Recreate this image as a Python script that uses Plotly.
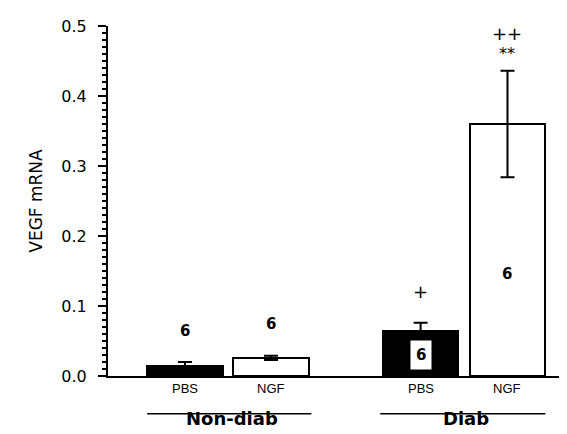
import plotly.graph_objects as go

# ---- data ----
groups = ["Non-diab", "Diab"]
treatments = ["PBS", "NGF", "PBS", "NGF"]
vegf_mean = [0.014, 0.026, 0.065, 0.36]
vegf_err = [0.006, 0.003, 0.011, 0.076]
n_labels = ["6", "6", "6", "6"]
y_ticks = [0.0, 0.1, 0.2, 0.3, 0.4, 0.5]
y_ticklabels = ["0.0", "0.1", "0.2", "0.3", "0.4", "0.5"]

# ---- layout constants ----
xpos = [0.0, 1.0, 2.74, 3.75]
bar_w = 0.88
fill = ["black", "white", "black", "white"]
FONT = "DejaVu Sans"

fig = go.Figure()
fig.add_trace(go.Bar(
    x=xpos, y=vegf_mean, width=bar_w,
    marker=dict(color=fill, line=dict(color="black", width=2)),
    error_y=dict(type="data", array=vegf_err, visible=True,
                 color="black", thickness=2, width=7),
    showlegend=False, hoverinfo="skip",
))

ann = []
# n labels
n_y = [0.064, 0.074, None, 0.146]
for i in [0, 1, 3]:
    ann.append(dict(x=xpos[i], y=n_y[i], text=n_labels[i], showarrow=False,
                    font=dict(family=FONT, size=15, color="black", weight="bold")))
ann.append(dict(x=xpos[2], y=0.03, text=n_labels[2], showarrow=False,
                bgcolor="white", borderpad=5,
                font=dict(family=FONT, size=15, color="black", weight="bold")))
# significance marks
ann.append(dict(x=xpos[2], y=0.121, text="+", showarrow=False,
                font=dict(family="DejaVu Sans", size=18, color="black")))
ann.append(dict(x=xpos[3], y=0.461, text="**", showarrow=False,
                font=dict(family="DejaVu Sans", size=16, color="black")))
ann.append(dict(x=xpos[3], y=0.49, text="++", showarrow=False,
                font=dict(family="DejaVu Sans", size=18, color="black")))
# treatment labels below
for i, t in enumerate(treatments):
    ann.append(dict(x=xpos[i], y=-0.062, yref="paper", text=t, showarrow=False,
                    font=dict(family="Liberation Sans", size=13, color="black")))
# group labels
grp_x = [(xpos[0] + xpos[1]) / 2 + 0.05, (xpos[2] + xpos[3]) / 2 + 0.02]
for gx, g in zip(grp_x, groups):
    ann.append(dict(x=gx, y=-0.158, yref="paper", text=g, showarrow=False,
                    font=dict(family=FONT, size=18, color="black", weight="bold")))

shapes = [
    dict(type="line", xref="x", yref="paper", x0=xpos[0] - bar_w / 2, x1=xpos[1] + bar_w / 2 + 0.03,
         y0=-0.108, y1=-0.108, line=dict(color="black", width=1.5)),
    dict(type="line", xref="x", yref="paper", x0=xpos[2] - bar_w / 2 - 0.03, x1=xpos[3] + bar_w / 2,
         y0=-0.108, y1=-0.108, line=dict(color="black", width=1.5)),
]

fig.update_layout(
    width=567, height=434,
    margin=dict(l=100, r=0, t=18, b=66),
    plot_bgcolor="white", paper_bgcolor="white",
    annotations=ann, shapes=shapes,
    bargap=0,
    xaxis=dict(range=[-0.895, 4.535], showgrid=False, zeroline=False,
               showline=True, linecolor="black", linewidth=2,
               showticklabels=False, ticks=""),
    yaxis=dict(range=[0, 0.5], showgrid=False, zeroline=False,
               showline=True, linecolor="black", linewidth=2,
               tickmode="array", tickvals=y_ticks, ticktext=y_ticklabels,
               ticks="outside", ticklen=8, tickwidth=2, tickcolor="black",
               ticklabelstandoff=8,
               minor=dict(dtick=0.01, ticks="outside", ticklen=4,
                          tickwidth=1.5, tickcolor="black"),
               tickfont=dict(family=FONT, size=16, color="black"),
               title=dict(text="VEGF mRNA", standoff=14,
                          font=dict(family=FONT, size=17, color="black"))),
)

fig.write_html("out.html")
